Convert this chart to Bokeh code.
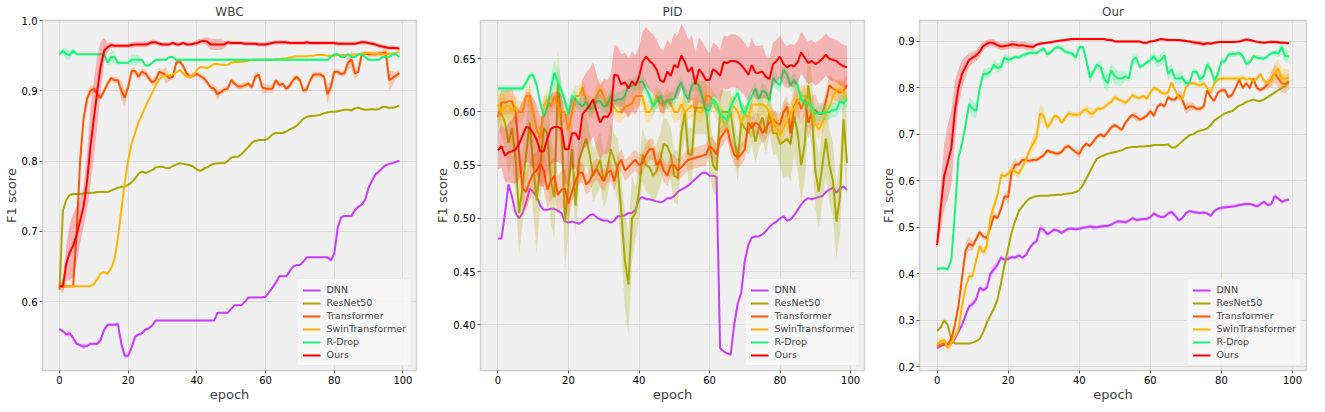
import numpy as np
from bokeh.plotting import figure
from bokeh.layouts import row
from bokeh.models import Range1d, FixedTicker, NumeralTickFormatter
from bokeh.embed import file_html
from bokeh.resources import INLINE

EPOCHS = list(range(100))
NAMES = ["DNN", "ResNet50", "Transformer", "SwinTransformer", "R-Drop", "Ours"]
COLORS = ["#c93cff", "#a8a800", "#ff5500", "#ffb400", "#19f57a", "#ff0000"]

# ---------------- WBC ----------------
WBC_DNN = [0.561,0.558,0.553,0.555,0.548,0.540,0.538,0.536,0.537,0.540,
           0.540,0.540,0.546,0.560,0.567,0.567,0.567,0.568,0.540,0.523,
           0.523,0.535,0.550,0.553,0.555,0.560,0.562,0.566,0.573,0.573,
           0.573,0.573,0.573,0.573,0.573,0.573,0.573,0.573,0.573,0.573,
           0.573,0.573,0.573,0.573,0.573,0.573,0.584,0.584,0.584,0.584,
           0.590,0.595,0.595,0.595,0.600,0.606,0.606,0.606,0.606,0.606,
           0.607,0.613,0.620,0.627,0.636,0.636,0.636,0.643,0.650,0.652,
           0.652,0.657,0.663,0.663,0.663,0.663,0.663,0.663,0.663,0.659,
           0.668,0.705,0.720,0.722,0.722,0.722,0.730,0.735,0.738,0.745,
           0.762,0.772,0.781,0.785,0.790,0.794,0.796,0.797,0.799,0.800]
WBC_RES = [0.617,0.730,0.745,0.752,0.753,0.753,0.753,0.754,0.755,0.755,
           0.755,0.756,0.756,0.756,0.756,0.758,0.760,0.762,0.763,0.764,
           0.766,0.770,0.775,0.782,0.785,0.783,0.785,0.787,0.791,0.792,
           0.792,0.790,0.790,0.793,0.795,0.797,0.796,0.795,0.794,0.792,
           0.788,0.786,0.789,0.791,0.794,0.796,0.797,0.797,0.797,0.800,
           0.805,0.806,0.806,0.810,0.815,0.820,0.826,0.829,0.830,0.830,
           0.830,0.833,0.838,0.840,0.840,0.840,0.842,0.845,0.847,0.850,
           0.855,0.860,0.863,0.864,0.864,0.865,0.866,0.868,0.869,0.870,
           0.870,0.871,0.872,0.873,0.873,0.872,0.875,0.876,0.874,0.873,
           0.873,0.874,0.873,0.874,0.877,0.877,0.876,0.876,0.877,0.879]
WBC_TRF = [0.622,0.622,0.622,0.622,0.622,0.700,0.800,0.860,0.888,0.900,
           0.903,0.895,0.890,0.900,0.910,0.918,0.915,0.915,0.900,0.890,
           0.905,0.928,0.928,0.920,0.927,0.925,0.918,0.912,0.915,0.927,
           0.925,0.922,0.918,0.920,0.940,0.942,0.935,0.925,0.920,0.922,
           0.924,0.921,0.918,0.912,0.905,0.903,0.895,0.898,0.902,0.903,
           0.915,0.910,0.906,0.906,0.908,0.910,0.905,0.920,0.923,0.905,
           0.903,0.903,0.903,0.915,0.908,0.910,0.903,0.907,0.915,0.920,
           0.915,0.900,0.902,0.915,0.923,0.923,0.923,0.920,0.895,0.905,
           0.927,0.927,0.924,0.925,0.940,0.945,0.925,0.927,0.952,0.953,
           0.952,0.952,0.952,0.953,0.953,0.955,0.915,0.918,0.922,0.925]
WBC_SWIN = [0.622,0.622,0.622,0.622,0.622,0.622,0.622,0.622,0.622,0.622,
            0.625,0.632,0.640,0.642,0.640,0.647,0.660,0.690,0.730,0.770,
            0.800,0.825,0.840,0.855,0.866,0.877,0.887,0.897,0.908,0.916,
            0.920,0.922,0.922,0.923,0.926,0.930,0.925,0.920,0.920,0.922,
            0.930,0.934,0.933,0.932,0.935,0.938,0.938,0.937,0.937,0.937,
            0.940,0.941,0.941,0.941,0.942,0.943,0.944,0.944,0.944,0.944,
            0.944,0.944,0.944,0.945,0.945,0.946,0.946,0.947,0.948,0.949,
            0.949,0.949,0.949,0.950,0.950,0.951,0.951,0.951,0.950,0.950,
            0.950,0.951,0.951,0.951,0.951,0.951,0.952,0.952,0.953,0.953,
            0.954,0.953,0.953,0.952,0.952,0.952,0.953,0.953,0.954,0.956]
WBC_RDROP = [0.952,0.957,0.952,0.951,0.957,0.952,0.952,0.952,0.952,0.952,
             0.952,0.952,0.952,0.952,0.940,0.948,0.948,0.940,0.940,0.940,
             0.940,0.944,0.944,0.944,0.944,0.936,0.936,0.940,0.944,0.944,
             0.944,0.944,0.948,0.948,0.944,0.944,0.944,0.944,0.944,0.944,
             0.944,0.944,0.944,0.944,0.944,0.944,0.944,0.944,0.944,0.944,
             0.944,0.944,0.944,0.944,0.944,0.944,0.944,0.944,0.944,0.944,
             0.944,0.944,0.944,0.944,0.944,0.944,0.944,0.944,0.944,0.944,
             0.944,0.944,0.944,0.944,0.944,0.944,0.944,0.944,0.944,0.948,
             0.952,0.952,0.948,0.948,0.952,0.948,0.948,0.952,0.952,0.948,
             0.944,0.944,0.944,0.944,0.948,0.948,0.948,0.952,0.952,0.948]
WBC_OURS = [0.622,0.622,0.655,0.670,0.680,0.695,0.715,0.735,0.770,0.820,
            0.860,0.900,0.935,0.957,0.962,0.965,0.964,0.964,0.964,0.964,
            0.964,0.965,0.966,0.966,0.966,0.966,0.967,0.969,0.969,0.967,
            0.966,0.966,0.966,0.968,0.966,0.966,0.968,0.966,0.966,0.967,
            0.968,0.970,0.971,0.970,0.966,0.966,0.966,0.966,0.966,0.969,
            0.968,0.968,0.968,0.968,0.967,0.967,0.967,0.967,0.966,0.966,
            0.966,0.967,0.968,0.969,0.969,0.969,0.969,0.968,0.968,0.968,
            0.968,0.968,0.969,0.968,0.968,0.968,0.968,0.968,0.968,0.968,
            0.968,0.967,0.967,0.967,0.967,0.967,0.967,0.968,0.969,0.969,
            0.968,0.967,0.966,0.964,0.963,0.962,0.961,0.961,0.961,0.960]
# band half-widths (thousandths)
WBC_DNN_SD = [2,2,3,5,3,2,2,4,2,2, 2,2,5,3,2,2,2,4,8,4,
              3,4,3,3,2,2,2,2,1,1, 1,1,1,1,1,1,1,1,1,1,
              1,1,1,1,1,1,1,1,1,1, 1,1,1,1,1,1,1,1,1,1,
              1,1,1,1,1,1,1,1,1,1, 1,1,1,1,1,1,1,1,2,3,
              3,2,2,1,1,1,2,2,2,2, 2,2,2,2,2,2,1,1,1,1]
WBC_TRF_SD = [2,2,2,2,2,8,8,8,8,8, 4,4,4,4,4,4,4,4,14,12,
              5,5,5,5,5,5,5,5,5,5, 5,12,4,4,4,4,4,4,4,4,
              4,4,4,4,4,6,8,4,4,4, 4,4,4,4,4,4,4,6,4,8,
              6,6,6,4,4,4,4,4,4,4, 4,4,4,4,4,4,4,4,14,8,
              4,4,4,4,10,12,10,4,4,4, 4,4,4,4,4,10,14,10,5,5]
WBC_RDROP_SD = [2,4,8,6,4,1,1,1,1,1, 1,1,1,1,4,10,8,3,2,2,
                2,8,8,6,2,2,2,2,2,2, 2,2,2,2,2,2,2,2,2,2,
                2,2,2,2,2,2,2,2,2,2, 2,2,2,2,2,2,2,2,2,2,
                2,2,2,2,2,2,2,2,2,2, 2,2,2,2,2,2,2,2,2,2,
                2,2,2,2,2,2,2,2,2,2, 2,2,2,2,2,2,2,2,2,2]
WBC_OURS_SD = [3,10,25,40,45,40,32,28,40,55, 55,50,35,18,6,4,3,3,3,3,
               3,4,4,4,4,4,4,4,3,3, 3,3,3,3,3,3,3,3,3,3,
               4,4,4,6,8,8,8,8,5,3, 3,3,3,3,3,3,3,3,3,3,
               3,3,3,3,3,3,3,3,3,3, 3,3,3,3,3,3,3,3,3,3,
               3,3,3,3,3,3,3,3,3,3, 3,3,3,3,3,3,3,3,3,3]

# ---------------- PID ----------------
PID_DNN = [0.481,0.481,0.505,0.532,0.520,0.505,0.500,0.505,0.515,0.528,
           0.525,0.520,0.512,0.508,0.508,0.509,0.509,0.507,0.505,0.497,
           0.496,0.497,0.496,0.495,0.497,0.500,0.503,0.504,0.501,0.499,
           0.498,0.498,0.496,0.498,0.502,0.502,0.503,0.505,0.505,0.508,
           0.518,0.520,0.518,0.518,0.517,0.516,0.515,0.516,0.519,0.519,
           0.521,0.525,0.527,0.529,0.531,0.534,0.537,0.540,0.543,0.543,
           0.540,0.540,0.539,0.378,0.375,0.373,0.372,0.400,0.420,0.430,
           0.460,0.475,0.482,0.483,0.483,0.485,0.488,0.492,0.495,0.497,
           0.500,0.502,0.498,0.499,0.503,0.508,0.513,0.517,0.519,0.518,
           0.519,0.520,0.521,0.525,0.527,0.529,0.524,0.528,0.530,0.527]
PID_RES = [0.600,0.598,0.590,0.571,0.585,0.555,0.505,0.530,0.560,0.590,
           0.550,0.517,0.550,0.585,0.580,0.535,0.520,0.627,0.590,0.497,
           0.530,0.565,0.512,0.555,0.565,0.575,0.560,0.540,0.548,0.555,
           0.535,0.545,0.565,0.555,0.545,0.505,0.460,0.438,0.500,0.505,
           0.525,0.560,0.550,0.548,0.540,0.545,0.555,0.570,0.568,0.560,
           0.540,0.538,0.580,0.600,0.560,0.560,0.604,0.604,0.604,0.604,
           0.570,0.550,0.545,0.600,0.600,0.600,0.600,0.575,0.555,0.590,
           0.585,0.580,0.590,0.572,0.585,0.595,0.580,0.600,0.580,0.580,
           0.570,0.572,0.575,0.570,0.596,0.580,0.550,0.570,0.625,0.600,
           0.545,0.525,0.550,0.575,0.550,0.535,0.497,0.520,0.593,0.552]
PID_TRF = [0.595,0.609,0.609,0.610,0.610,0.600,0.560,0.528,0.525,0.535,
           0.542,0.545,0.552,0.545,0.527,0.535,0.540,0.522,0.527,0.528,
           0.514,0.525,0.535,0.543,0.543,0.532,0.535,0.543,0.546,0.540,
           0.535,0.543,0.545,0.535,0.550,0.555,0.545,0.548,0.552,0.555,
           0.550,0.552,0.560,0.565,0.565,0.550,0.555,0.545,0.540,0.550,
           0.550,0.545,0.548,0.552,0.555,0.556,0.557,0.558,0.559,0.560,
           0.568,0.565,0.560,0.575,0.580,0.585,0.570,0.560,0.557,0.560,
           0.565,0.590,0.585,0.590,0.588,0.580,0.585,0.590,0.593,0.590,
           0.588,0.600,0.605,0.580,0.605,0.612,0.603,0.612,0.590,0.600,
           0.602,0.598,0.598,0.610,0.625,0.622,0.620,0.618,0.620,0.625]
PID_SWIN = [0.607,0.600,0.605,0.606,0.600,0.605,0.600,0.600,0.615,0.615,
            0.600,0.583,0.575,0.605,0.612,0.605,0.615,0.605,0.600,0.600,
            0.582,0.600,0.615,0.615,0.623,0.610,0.605,0.603,0.615,0.622,
            0.615,0.605,0.610,0.604,0.600,0.600,0.605,0.606,0.608,0.615,
            0.615,0.615,0.600,0.600,0.606,0.615,0.608,0.606,0.612,0.608,
            0.600,0.600,0.607,0.600,0.603,0.606,0.603,0.600,0.600,0.615,
            0.615,0.610,0.602,0.600,0.590,0.590,0.605,0.605,0.600,0.590,
            0.598,0.595,0.607,0.607,0.607,0.607,0.605,0.600,0.592,0.585,
            0.578,0.585,0.592,0.600,0.603,0.610,0.615,0.615,0.610,0.603,
            0.590,0.583,0.590,0.598,0.605,0.615,0.620,0.622,0.618,0.612]
PID_RDROP = [0.622,0.622,0.622,0.622,0.622,0.622,0.622,0.622,0.628,0.634,
             0.635,0.625,0.608,0.596,0.605,0.622,0.637,0.628,0.620,0.610,
             0.598,0.615,0.612,0.608,0.605,0.610,0.602,0.605,0.610,0.610,
             0.605,0.607,0.615,0.610,0.612,0.612,0.615,0.625,0.624,0.627,
             0.628,0.629,0.622,0.615,0.605,0.610,0.615,0.608,0.610,0.612,
             0.612,0.622,0.628,0.616,0.612,0.625,0.628,0.625,0.614,0.600,
             0.602,0.612,0.608,0.598,0.595,0.592,0.605,0.612,0.618,0.605,
             0.598,0.608,0.615,0.622,0.612,0.620,0.618,0.610,0.632,0.628,
             0.625,0.640,0.635,0.625,0.630,0.625,0.612,0.609,0.608,0.605,
             0.598,0.599,0.599,0.600,0.600,0.602,0.602,0.610,0.608,0.612]
PID_OURS = [0.564,0.568,0.559,0.562,0.563,0.565,0.570,0.578,0.586,0.585,
            0.580,0.574,0.563,0.563,0.575,0.584,0.586,0.586,0.584,0.565,
            0.565,0.580,0.580,0.574,0.598,0.602,0.606,0.612,0.600,0.590,
            0.596,0.595,0.600,0.635,0.634,0.626,0.628,0.622,0.629,0.625,
            0.633,0.647,0.652,0.648,0.645,0.640,0.630,0.628,0.638,0.634,
            0.644,0.642,0.653,0.647,0.638,0.642,0.626,0.640,0.636,0.630,
            0.630,0.640,0.638,0.634,0.647,0.646,0.648,0.648,0.647,0.644,
            0.640,0.635,0.644,0.637,0.637,0.638,0.633,0.631,0.645,0.648,
            0.652,0.645,0.642,0.644,0.643,0.647,0.656,0.651,0.646,0.648,
            0.645,0.647,0.650,0.654,0.650,0.649,0.648,0.645,0.643,0.642]
PID_RES_SD = [15,20,25,30,30,35,40,35,30,40, 45,50,35,30,35,40,40,30,35,45,
              45,25,30,25,25,25,20,25,25,25, 25,25,25,25,30,35,45,48,40,25,
              25,25,25,25,25,25,25,25,25,25, 25,25,25,25,25,25,25,25,25,25,
              25,25,25,20,20,20,20,20,20,20, 20,20,20,20,20,20,20,20,20,20,
              20,35,35,35,35,35,35,35,35,35, 35,35,35,35,35,35,35,35,35,35]
PID_TRF_SD = [12,12,12,12,12,12,12,18,18,18, 18,18,18,18,18,18,18,18,18,18,
              18,10,10,10,10,10,10,10,10,10, 10,10,10,10,10,10,10,10,10,10,
              10,10,10,10,10,10,10,10,10,10, 10,10,10,10,10,10,10,10,10,10,
              10,10,10,10,10,10,10,10,10,10, 10,10,10,10,10,10,10,10,10,10,
              10,10,10,15,15,15,15,15,15,15, 15,10,10,10,10,10,10,10,10,10]
PID_SWIN_SD = [15,15,15,15,15,10,10,10,10,10, 10,10,10,10,10,10,10,10,10,10,
               10,10,10,10,10,10,10,10,10,10, 10,10,10,10,10,10,10,10,10,10,
               10,10,10,10,10,10,10,10,10,10, 10,10,10,10,10,10,10,10,10,10,
               10,10,10,10,10,10,10,10,10,10, 10,10,10,10,10,10,10,10,10,10,
               10,10,10,10,10,10,10,10,10,10, 10,10,10,10,10,10,10,10,10,10]
PID_RDROP_SD = [3,3,3,3,3,3,3,3,3,3, 3,3,3,3,3,12,12,12,7,7,
                7,7,7,7,7,7,7,7,7,7, 7,7,7,7,7,7,7,7,7,7,
                7,7,7,7,7,7,7,7,7,7, 7,7,7,7,7,7,7,7,7,7,
                7,7,7,7,7,7,7,7,7,7, 7,7,7,7,7,7,7,7,7,7,
                7,7,7,7,7,7,7,7,7,7, 7,7,7,7,7,7,7,7,7,7]
PID_OURS_SD = [18,20,25,28,30,33,33,33,33,33, 33,33,33,33,33,33,33,33,33,33,
               33,33,33,33,33,35,35,35,35,35, 35,35,35,28,28,28,28,28,28,28,
               28,28,28,28,28,28,30,30,30,30, 30,30,30,30,30,30,30,30,30,30,
               25,25,25,25,25,25,25,25,25,25, 25,25,25,25,25,25,20,20,20,20,
               20,20,20,20,20,20,20,20,20,20, 20,20,20,20,20,20,20,20,20,20]

# ---------------- Our ----------------
OUR_DNN = [0.240,0.245,0.248,0.248,0.250,0.260,0.275,0.290,0.310,0.330,
           0.335,0.345,0.370,0.365,0.370,0.400,0.410,0.420,0.435,0.430,
           0.432,0.436,0.435,0.440,0.435,0.440,0.455,0.465,0.470,0.498,
           0.495,0.485,0.490,0.495,0.493,0.488,0.493,0.497,0.497,0.496,
           0.497,0.499,0.500,0.502,0.500,0.500,0.502,0.503,0.503,0.506,
           0.510,0.513,0.512,0.511,0.514,0.520,0.516,0.517,0.518,0.518,
           0.522,0.530,0.525,0.522,0.523,0.530,0.533,0.525,0.515,0.520,
           0.530,0.535,0.533,0.532,0.531,0.532,0.530,0.525,0.535,0.540,
           0.542,0.543,0.544,0.545,0.546,0.548,0.549,0.550,0.550,0.548,
           0.545,0.550,0.555,0.548,0.550,0.567,0.562,0.555,0.558,0.560]
OUR_RES = [0.277,0.285,0.300,0.290,0.260,0.250,0.250,0.250,0.250,0.250,
           0.252,0.255,0.260,0.275,0.295,0.310,0.325,0.345,0.380,0.420,
           0.455,0.490,0.515,0.535,0.545,0.555,0.562,0.565,0.567,0.568,
           0.568,0.568,0.569,0.569,0.570,0.570,0.572,0.573,0.574,0.576,
           0.580,0.590,0.605,0.620,0.635,0.648,0.652,0.655,0.658,0.660,
           0.662,0.664,0.666,0.670,0.672,0.673,0.673,0.674,0.674,0.675,
           0.675,0.677,0.677,0.677,0.677,0.678,0.672,0.672,0.678,0.685,
           0.692,0.698,0.700,0.705,0.708,0.710,0.713,0.720,0.730,0.735,
           0.740,0.745,0.748,0.750,0.756,0.762,0.765,0.770,0.772,0.775,
           0.772,0.772,0.775,0.780,0.785,0.790,0.795,0.800,0.805,0.812]
OUR_TRF = [0.245,0.248,0.250,0.248,0.260,0.290,0.330,0.390,0.450,0.465,
           0.460,0.475,0.490,0.480,0.477,0.500,0.525,0.520,0.540,0.567,
           0.565,0.620,0.635,0.635,0.645,0.645,0.643,0.645,0.645,0.650,
           0.655,0.665,0.662,0.660,0.658,0.662,0.672,0.675,0.668,0.662,
           0.658,0.672,0.680,0.675,0.685,0.695,0.700,0.695,0.705,0.715,
           0.720,0.715,0.710,0.725,0.735,0.742,0.738,0.732,0.735,0.740,
           0.750,0.740,0.760,0.765,0.760,0.780,0.775,0.775,0.785,0.775,
           0.755,0.760,0.760,0.755,0.755,0.760,0.795,0.780,0.772,0.790,
           0.795,0.795,0.780,0.785,0.800,0.818,0.800,0.810,0.800,0.820,
           0.800,0.795,0.800,0.808,0.818,0.832,0.820,0.810,0.808,0.815]
OUR_SWIN = [0.247,0.255,0.258,0.240,0.250,0.265,0.280,0.330,0.370,0.395,
            0.395,0.430,0.460,0.445,0.460,0.520,0.545,0.570,0.613,0.610,
            0.615,0.625,0.620,0.615,0.630,0.645,0.665,0.680,0.695,0.745,
            0.740,0.715,0.725,0.740,0.738,0.725,0.735,0.745,0.742,0.742,
            0.742,0.750,0.755,0.745,0.745,0.755,0.755,0.758,0.765,0.770,
            0.780,0.775,0.772,0.768,0.775,0.785,0.780,0.778,0.783,0.776,
            0.790,0.800,0.797,0.790,0.787,0.790,0.812,0.795,0.780,0.775,
            0.800,0.810,0.810,0.808,0.805,0.810,0.800,0.790,0.810,0.818,
            0.820,0.820,0.820,0.820,0.820,0.820,0.822,0.818,0.820,0.815,
            0.820,0.830,0.815,0.810,0.815,0.832,0.842,0.820,0.820,0.822]
OUR_RDROP = [0.410,0.412,0.412,0.410,0.430,0.530,0.650,0.680,0.720,0.765,
             0.755,0.750,0.800,0.830,0.830,0.835,0.850,0.843,0.845,0.865,
             0.860,0.863,0.867,0.865,0.870,0.873,0.875,0.876,0.875,0.880,
             0.885,0.872,0.877,0.885,0.888,0.885,0.878,0.876,0.874,0.865,
             0.887,0.888,0.860,0.822,0.835,0.850,0.845,0.820,0.810,0.838,
             0.825,0.820,0.820,0.825,0.820,0.860,0.865,0.845,0.848,0.855,
             0.860,0.868,0.856,0.860,0.870,0.830,0.840,0.820,0.820,0.823,
             0.810,0.810,0.835,0.835,0.818,0.825,0.850,0.840,0.815,0.830,
             0.857,0.857,0.872,0.873,0.873,0.875,0.868,0.852,0.855,0.868,
             0.865,0.864,0.863,0.868,0.874,0.876,0.874,0.888,0.868,0.868]
OUR_OURS = [0.462,0.540,0.610,0.640,0.670,0.750,0.800,0.830,0.845,0.860,
            0.865,0.870,0.878,0.890,0.895,0.898,0.896,0.892,0.889,0.890,
            0.891,0.894,0.893,0.891,0.892,0.890,0.889,0.888,0.893,0.895,
            0.896,0.897,0.898,0.900,0.901,0.902,0.903,0.904,0.905,0.905,
            0.905,0.905,0.905,0.905,0.905,0.905,0.905,0.905,0.903,0.903,
            0.900,0.900,0.900,0.900,0.900,0.900,0.900,0.900,0.897,0.897,
            0.900,0.901,0.903,0.905,0.904,0.903,0.903,0.903,0.903,0.902,
            0.901,0.900,0.898,0.897,0.896,0.894,0.896,0.895,0.897,0.898,
            0.899,0.899,0.899,0.899,0.899,0.900,0.902,0.904,0.903,0.901,
            0.899,0.898,0.897,0.898,0.899,0.899,0.898,0.897,0.897,0.896]
OUR_DNN_SD = [3,3,3,3,3,3,3,4,5,6, 6,6,5,5,6,8,10,8,6,5,
              4,4,4,4,4,4,5,5,5,10, 6,5,5,5,4,4,4,4,4,4,
              4,4,4,4,6,4,4,4,4,4, 4,4,4,4,4,4,4,4,4,4,
              4,5,5,4,4,4,5,5,4,4, 4,4,4,4,4,4,4,4,4,4,
              4,4,4,4,4,4,4,4,4,4, 4,4,4,4,4,6,5,4,4,4]
OUR_TRF_SD = [6,6,6,6,6,6,6,10,15,15, 10,6,6,6,6,6,6,6,6,6,
              15,15,12,5,5,5,5,5,5,5, 5,5,5,5,5,5,5,5,5,5,
              10,5,5,5,5,5,5,5,5,5, 5,5,5,5,5,5,10,5,5,5,
              5,5,5,5,5,5,5,5,10,12, 12,10,8,5,5,5,5,5,5,5,
              5,5,5,5,5,5,5,5,5,5, 5,5,5,12,15,18,20,20,20,18]
OUR_SWIN_SD = [8,8,8,8,8,8,8,8,8,8, 8,8,8,8,15,15,12,8,8,8,
               8,8,8,8,8,8,8,15,20,22, 15,6,6,6,6,6,6,6,6,6,
               6,6,10,12,10,5,5,5,5,5, 5,5,5,5,5,5,5,5,5,5,
               5,5,5,5,5,5,5,5,5,5, 5,5,5,5,5,5,5,5,5,5,
               5,5,5,5,5,5,5,5,5,5, 5,5,5,5,15,20,20,20,20,18]
OUR_RDROP_SD = [4,4,4,4,4,4,4,4,4,15, 18,15,8,12,12,10,10,10,10,10,
                10,5,5,5,5,5,5,5,6,6, 6,6,6,6,6,6,5,5,5,10,
                5,5,12,12,10,5,15,20,20,15, 18,15,15,10,5,15,8,5,5,5,
                8,10,12,12,12,15,12,10,15,12, 8,5,5,5,10,10,8,8,8,8,
                6,6,6,6,6,6,8,8,5,5, 5,5,5,5,5,5,8,15,15,12]
OUR_OURS_SD = [5,50,70,80,80,65,40,30,22,15, 12,12,12,10,8,8,8,8,8,8,
               8,8,8,8,8,8,8,8,3,3, 3,3,3,3,3,3,3,3,3,3,
               3,3,3,3,3,3,3,3,3,3, 3,3,3,3,3,3,3,3,3,3,
               3,3,3,3,3,3,3,3,3,3, 3,3,5,5,5,5,3,3,3,3,
               3,3,3,3,3,3,3,3,3,3, 3,3,3,3,4,4,4,3,3,3]

WBC_TICKS = [0.6, 0.7, 0.8, 0.9, 1.0]
PID_TICKS = [0.40, 0.45, 0.50, 0.55, 0.60, 0.65]
OUR_TICKS = [0.2, 0.3, 0.4, 0.5, 0.6, 0.7, 0.8, 0.9]
X_TICKS = [0, 20, 40, 60, 80, 100]

FONT = "DejaVu Sans"


def make_panel(title, series, bands, yrange, yticks, yfmt, width, bl, br):
    p = figure(width=width, height=404, output_backend="svg", toolbar_location=None,
               x_range=Range1d(-4.95, 103.95), y_range=Range1d(*yrange),
               min_border_left=bl, min_border_right=br, min_border_top=0,
               min_border_bottom=0)
    p.title.text = title
    p.title.align = "center"
    p.title.text_font = FONT
    p.title.text_font_size = "12px"
    p.title.text_font_style = "normal"
    p.title.standoff = 4
    p.background_fill_color = "#f0f0f0"
    p.border_fill_color = "white"
    p.outline_line_color = "#d0d0d0"
    p.outline_line_width = 1.5
    for g in (p.xgrid, p.ygrid):
        g.grid_line_color = "#dadada"
        g.grid_line_width = 1
    p.xaxis.ticker = FixedTicker(ticks=X_TICKS)
    p.yaxis.ticker = FixedTicker(ticks=yticks)
    p.yaxis.formatter = NumeralTickFormatter(format=yfmt)
    p.xaxis.axis_label = "epoch"
    p.yaxis.axis_label = "F1 score"
    for ax in (p.xaxis, p.yaxis):
        ax.axis_line_color = None
        ax.major_tick_line_color = "#555555"
        ax.major_tick_out = 3
        ax.major_tick_in = 0
        ax.minor_tick_line_color = None
        ax.major_label_text_font = FONT
        ax.major_label_text_font_size = "10px"
        ax.major_label_text_color = "black"
        ax.major_label_standoff = 2
        ax.axis_label_text_font = FONT
        ax.axis_label_text_font_size = "13px"
        ax.axis_label_text_font_style = "normal"
        ax.axis_label_standoff = 0
    x = np.array(EPOCHS)
    for name, color in zip(NAMES, COLORS):
        vals = np.array(series[name])
        if name in bands:
            sd = np.array(bands[name]) / 1000.0
            p.varea(x=x, y1=vals - sd, y2=vals + sd, fill_color=color, fill_alpha=0.25)
        p.line(x, vals, line_color=color, line_width=2, legend_label=name)
    lg = p.legend[0]
    lg.location = "bottom_right"
    lg.label_text_font = FONT
    lg.label_text_font_size = "9.5px"
    lg.label_height = 10
    lg.glyph_height = 10
    lg.glyph_width = 18
    lg.spacing = 2
    lg.padding = 5
    lg.margin = 4
    lg.label_standoff = 6
    lg.background_fill_color = "#f8f8f8"
    lg.background_fill_alpha = 0.85
    lg.border_line_color = "#dddddd"
    return p


wbc = make_panel("WBC",
                 {"DNN": WBC_DNN, "ResNet50": WBC_RES, "Transformer": WBC_TRF,
                  "SwinTransformer": WBC_SWIN, "R-Drop": WBC_RDROP, "Ours": WBC_OURS},
                 {"DNN": WBC_DNN_SD, "Transformer": WBC_TRF_SD, "R-Drop": WBC_RDROP_SD,
                  "Ours": WBC_OURS_SD},
                 (0.502, 1.0), WBC_TICKS, "0.0", 432, 27, 16)
pid = make_panel("PID",
                 {"DNN": PID_DNN, "ResNet50": PID_RES, "Transformer": PID_TRF,
                  "SwinTransformer": PID_SWIN, "R-Drop": PID_RDROP, "Ours": PID_OURS},
                 {"ResNet50": PID_RES_SD, "Transformer": PID_TRF_SD, "SwinTransformer": PID_SWIN_SD,
                  "R-Drop": PID_RDROP_SD, "Ours": PID_OURS_SD},
                 (0.357, 0.686), PID_TICKS, "0.00", 440, 43, 8)
our = make_panel("Our",
                 {"DNN": OUR_DNN, "ResNet50": OUR_RES, "Transformer": OUR_TRF,
                  "SwinTransformer": OUR_SWIN, "R-Drop": OUR_RDROP, "Ours": OUR_OURS},
                 {"DNN": OUR_DNN_SD, "Transformer": OUR_TRF_SD, "SwinTransformer": OUR_SWIN_SD,
                  "R-Drop": OUR_RDROP_SD, "Ours": OUR_OURS_SD},
                 (0.192, 0.945), OUR_TICKS, "0.0", 437, 47, 3)

layout = row(wbc, pid, our)
open("out.html", "w").write(file_html(layout, INLINE))
